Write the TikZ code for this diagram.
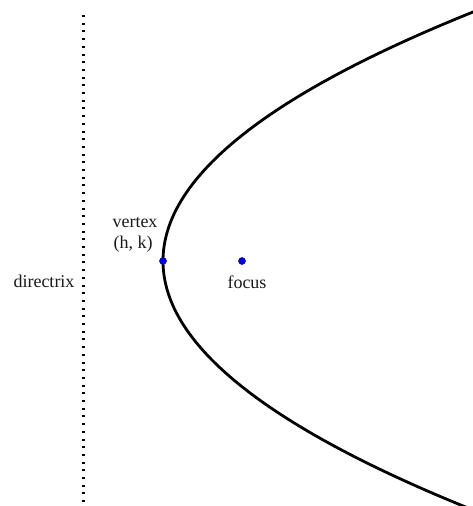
\documentclass[tikz,border=0pt]{standalone}
\usepackage{fontspec}
\setmainfont{Liberation Serif}
\tikzset{
  lbl/.style={font=\fontsize{18}{22}\selectfont, inner sep=0pt, text=black!90},
  ptdot/.style={circle, fill=blue!90!black, draw=blue!50!black, line width=0.5pt, inner sep=0pt, minimum size=7pt},
  curve/.style={line width=2.8pt, black},
  dline/.style={line width=2.4pt, dash pattern=on 2pt off 5.7pt}
}
\begin{document}
\begin{tikzpicture}[x=1pt, y=-1pt]
\useasboundingbox (0,0) rectangle (473,506);
\begin{scope}
\clip (0,0) rectangle (473,506);
\coordinate (dtop) at (83.5,15);
\coordinate (dbot) at (83.5,506);
\draw[dline] (dtop) -- (dbot);
\draw[curve, domain=0:515, samples=150, variable=\t]
  plot ({163+0.5*((\t-261)/10)*((\t-261)/10)}, {\t});
\end{scope}
\node[ptdot] (v) at (163,261) {};
\node[ptdot] (f) at (242,261) {};
\node[lbl, anchor=base] (vt) at (135,227) {vertex};
\node[lbl, anchor=base] (hk) at (133,248) {(h, k)};
\node[lbl, anchor=base] (dx) at (44,287) {directrix};
\node[lbl, anchor=base] (fl) at (247,288) {focus};
\end{tikzpicture}
\end{document}
